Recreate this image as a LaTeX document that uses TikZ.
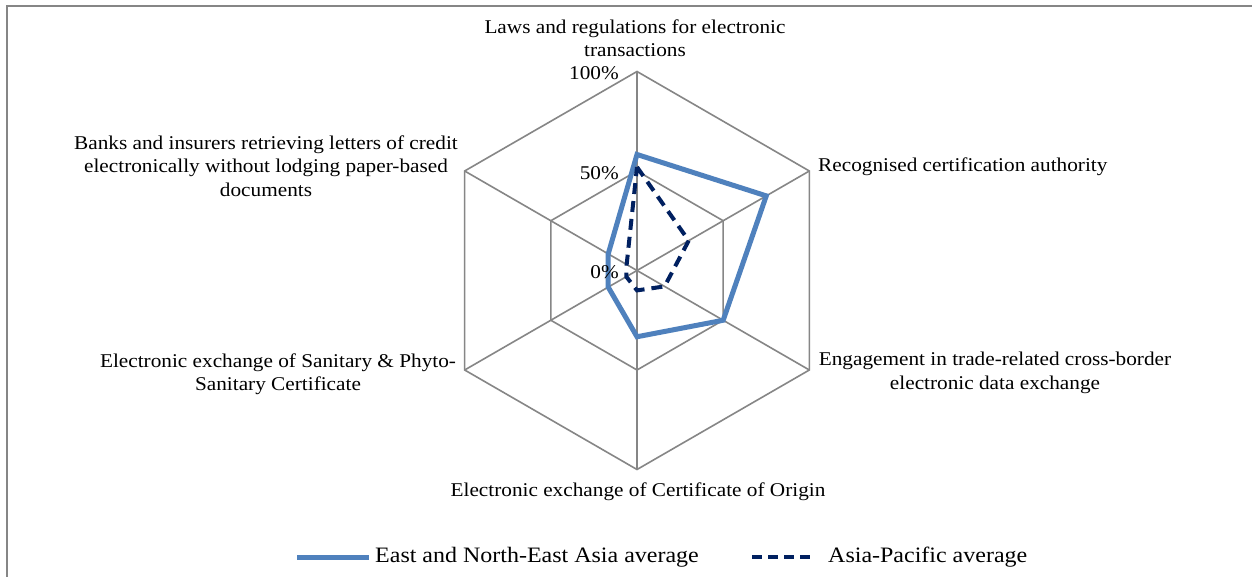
\documentclass[tikz,border=0pt]{standalone}
\usepackage{fontspec}
\setmainfont[FakeStretch=1.09]{Liberation Serif}
\definecolor{gridgray}{RGB}{134,134,134}
\definecolor{enea}{RGB}{79,129,189}
\definecolor{apnavy}{RGB}{0,32,96}
\begin{document}
\begin{tikzpicture}[x=1pt,y=1pt,
 gridline/.style={draw=gridgray,line width=1.6pt},
 lab/.style={font=\fontsize{19.5}{23.5}\selectfont,align=center,inner sep=0pt},
 pct/.style={font=\fontsize{19.5}{23}\selectfont,inner sep=0pt,anchor=east},
 enealine/.style={draw=enea,line width=5pt,line join=miter},
 apline/.style={draw=apnavy,line width=4pt,dash pattern=on 11pt off 7pt},
 leg/.style={font=\fontsize{22}{25}\selectfont,inner sep=0pt,anchor=west}]
\useasboundingbox (0,0) rectangle (1252,576);
\path[clip] (0,0) rectangle (1252,576);
\fill[white] (0,0) rectangle (1252,576);
% frame
\coordinate (fb) at (7,-10);
\coordinate (fc) at (7,570);
\coordinate (fe) at (1262,570);
\draw[gridgray,line width=2.5pt] (fb) -- (fc) -- (fe);
% radar grid
\coordinate (O) at (637,305.5);
\foreach \i/\a in {1/90,2/30,3/-30,4/-90,5/210,6/150}{
  \coordinate (v\i) at ([shift={(\a:199)}]O);
  \coordinate (h\i) at ([shift={(\a:99.5)}]O);
}
\draw[gridline] (v1)--(v2)--(v3)--(v4)--(v5)--(v6)--cycle;
\draw[gridline] (h1)--(h2)--(h3)--(h4)--(h5)--(h6)--cycle;
\foreach \i in {1,...,6}{\draw[gridline] (O) -- (v\i);}
% data
\foreach \i/\a/\v in {1/90/0.583,2/30/0.75,3/-30/0.5,4/-90/0.333,5/210/0.167,6/150/0.167}{
  \coordinate (e\i) at ([shift={(\a:{199*\v})}]O);
}
\foreach \i/\a/\v in {1/90/0.52,2/30/0.30,3/-30/0.16,4/-90/0.10,5/210/0.062,6/150/0.06}{
  \coordinate (p\i) at ([shift={(\a:{199*\v})}]O);
}
\draw[enealine] (e1)--(e2)--(e3)--(e4)--(e5)--(e6)--cycle;
\draw[apline] (p1)--(p2)--(p3)--(p4)--(p5)--(p6)--cycle;
% percentage labels
\node[pct] (t100) at (619,503) {100\%};
\node[pct] (t50) at (619,403) {50\%};
\node[pct] (t0) at (619,304) {0\%};
% axis labels
\node[lab] (la1) at (635,538) {Laws and regulations for electronic\\transactions};
\node[lab,anchor=west] (la2) at (818,409) {Recognised certification authority};
\node[lab] (la3) at (995,203) {Engagement in trade-related cross-border\\electronic data exchange};
\node[lab] (la4) at (638,84) {Electronic exchange of Certificate of Origin};
\node[lab] (la5) at (278,202) {Electronic exchange of Sanitary \& Phyto-\\Sanitary Certificate};
\node[lab] (la6) at (266,410) {Banks and insurers retrieving letters of credit\\electronically without lodging paper-based\\documents};
% legend
\coordinate (l1a) at (297,19);
\coordinate (l1b) at (369,19);
\draw[enealine] (l1a) -- (l1b);
\node[leg] (lt1) at (375,19) {East and North-East Asia average};
\coordinate (l2a) at (752,19);
\coordinate (l2b) at (813,19);
\draw[apline,dash pattern=on 10pt off 6pt] (l2a) -- (l2b);
\node[leg] (lt2) at (828,19) {Asia-Pacific average};
\end{tikzpicture}
\end{document}
